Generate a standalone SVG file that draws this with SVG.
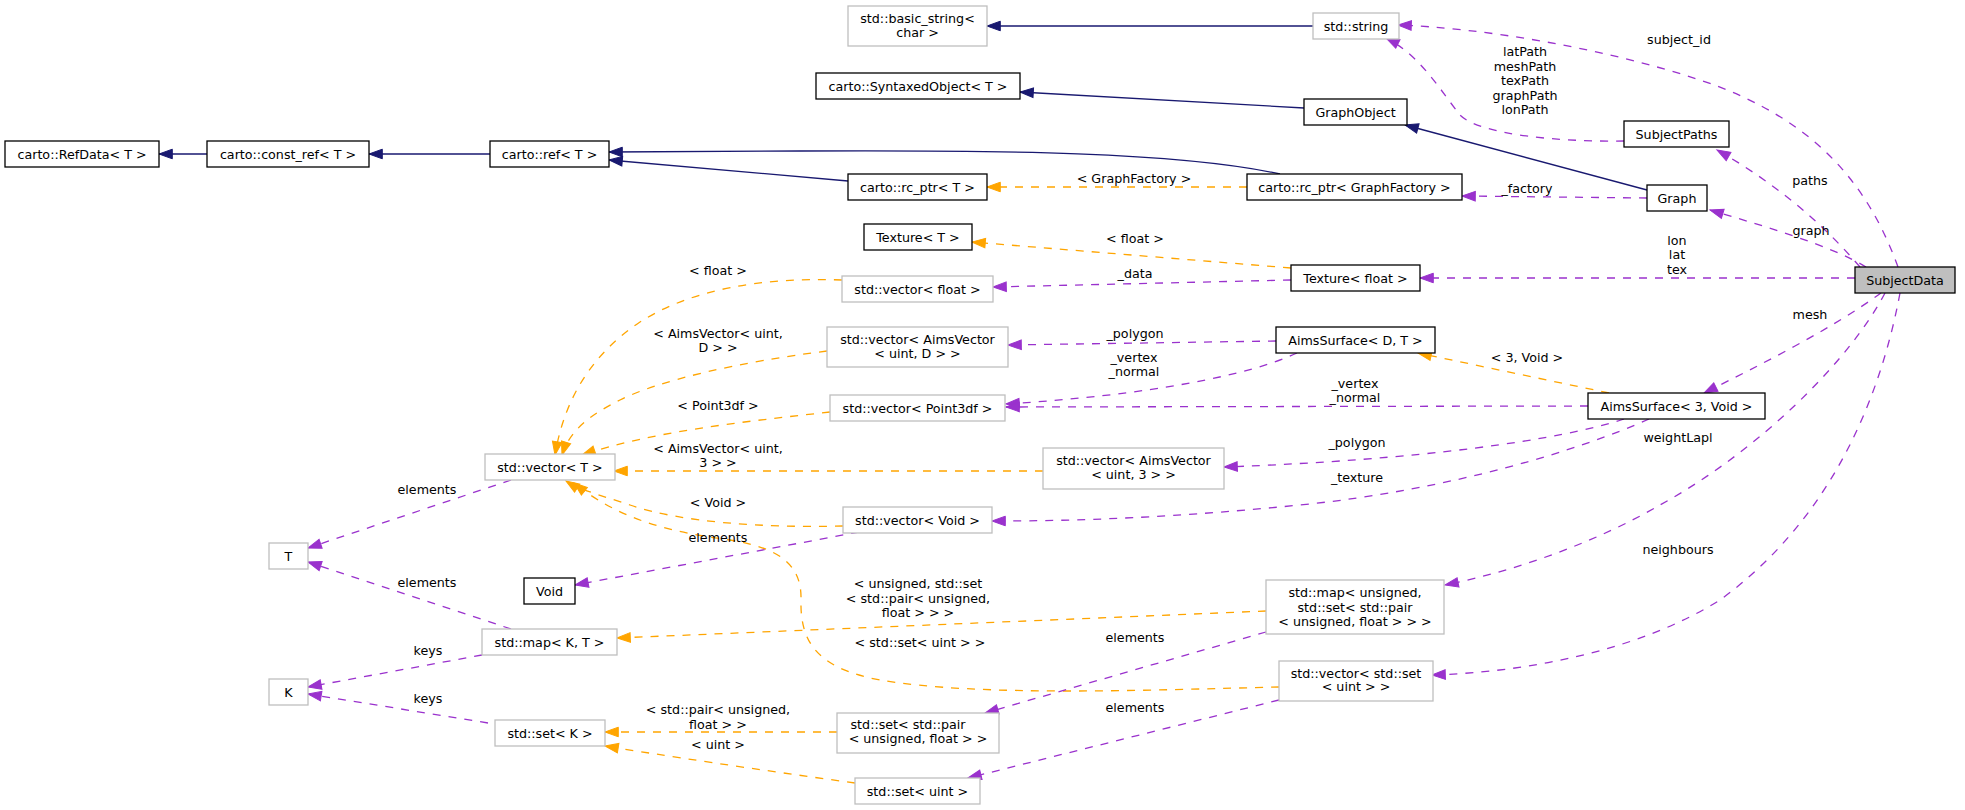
<svg xmlns="http://www.w3.org/2000/svg" width="1965" height="810" viewBox="0 0 1965 810">
<style>
rect{fill:#fff;stroke:#000;stroke-width:1.3}
.g rect{stroke:#bfbfbf}
.f rect{fill:#bfbfbf}
text{font-family:"DejaVu Sans","Liberation Sans",sans-serif;font-size:12.7px;text-anchor:middle;fill:#000}
#edges path{fill:none;stroke-width:1.3}
.i{stroke:#191970}
.o{stroke:#ffa500;stroke-dasharray:8,8}
.p{stroke:#9a32cd;stroke-dasharray:8,8}
</style>
<defs>
<marker id="aN" markerUnits="userSpaceOnUse" markerWidth="16" markerHeight="12" refX="13.3" refY="4.8" orient="auto" overflow="visible"><path d="M0,0L13.3,4.8L0,9.6z" fill="#191970" stroke="#191970" stroke-width="1"/></marker>
<marker id="aO" markerUnits="userSpaceOnUse" markerWidth="16" markerHeight="12" refX="13.3" refY="4.8" orient="auto" overflow="visible"><path d="M0,0L13.3,4.8L0,9.6z" fill="#ffa500" stroke="#ffa500" stroke-width="1"/></marker>
<marker id="aP" markerUnits="userSpaceOnUse" markerWidth="16" markerHeight="12" refX="13.3" refY="4.8" orient="auto" overflow="visible"><path d="M0,0L13.3,4.8L0,9.6z" fill="#9a32cd" stroke="#9a32cd" stroke-width="1"/></marker>
</defs>
<rect x="0" y="0" width="1965" height="810" style="fill:#fff;stroke:none"/>

<g id="edges">
<!-- inheritance -->
<path class="i" marker-end="url(#aN)" d="M207,154L159,154"/>
<path class="i" marker-end="url(#aN)" d="M490,154L369,154"/>
<path class="i" marker-end="url(#aN)" d="M1313,26L987,26"/>
<path class="i" marker-end="url(#aN)" d="M1304,108L1020,92"/>
<path class="i" marker-end="url(#aN)" d="M1280,174C1180,152 1000,150 800,151C700,151 640,152 609,152"/>
<path class="i" marker-end="url(#aN)" d="M848,181L609,160"/>
<path class="i" marker-end="url(#aN)" d="M1647,190L1405,125"/>
<!-- template instances -->
<path class="o" marker-end="url(#aO)" d="M1247,187L987,187"/>
<path class="o" marker-end="url(#aO)" d="M1291,268L972,242"/>
<path class="o" marker-end="url(#aO)" d="M1609,393L1418,353"/>
<path class="o" marker-end="url(#aO)" d="M1266,611L617,638"/>
<path class="o" marker-end="url(#aO)" d="M842,280C760,277 690,290 640,322C595,352 565,395 555,455"/>
<path class="o" marker-end="url(#aO)" d="M827,351C740,362 660,380 620,400C590,415 570,430 562,455"/>
<path class="o" marker-end="url(#aO)" d="M830,412C740,422 650,432 582,455"/>
<path class="o" marker-end="url(#aO)" d="M1043,471L614,471"/>
<path class="o" marker-end="url(#aO)" d="M843,526C760,528 680,522 630,505C600,495 580,490 566,481"/>
<path class="o" marker-end="url(#aO)" d="M1279,687C1150,690 980,697 880,680C815,668 800,640 801,600C802,565 780,548 730,540C670,532 620,520 574,483"/>
<path class="o" marker-end="url(#aO)" d="M837,732L605,732"/>
<path class="o" marker-end="url(#aO)" d="M855,783C760,770 660,755 605,746"/>
<!-- usage -->
<path class="p" marker-end="url(#aP)" d="M1898,267C1870,190 1820,120 1700,80C1600,47 1480,28 1398,25"/>
<path class="p" marker-end="url(#aP)" d="M1624,141C1560,142 1480,135 1460,115C1440,90 1420,55 1386,38"/>
<path class="p" marker-end="url(#aP)" d="M1647,198L1462,196"/>
<path class="p" marker-end="url(#aP)" d="M1860,267C1820,220 1770,180 1717,150"/>
<path class="p" marker-end="url(#aP)" d="M1866,267C1830,245 1760,225 1710,210"/>
<path class="p" marker-end="url(#aP)" d="M1855,278L1420,278"/>
<path class="p" marker-end="url(#aP)" d="M1881,293C1830,330 1760,365 1704,393"/>
<path class="p" marker-end="url(#aP)" d="M1885,293C1850,360 1760,450 1660,505C1600,540 1520,570 1445,585"/>
<path class="p" marker-end="url(#aP)" d="M1900,293C1880,400 1830,520 1720,600C1640,650 1530,672 1432,675"/>
<path class="p" marker-end="url(#aP)" d="M1291,280L993,287"/>
<path class="p" marker-end="url(#aP)" d="M1276,341L1008,345"/>
<path class="p" marker-end="url(#aP)" d="M1297,353C1250,375 1150,395 1006,404"/>
<path class="p" marker-end="url(#aP)" d="M1588,406L1006,407"/>
<path class="p" marker-end="url(#aP)" d="M1624,419C1560,440 1420,460 1224,467"/>
<path class="p" marker-end="url(#aP)" d="M1649,419C1580,450 1450,490 1300,505C1150,520 1050,521 992,521"/>
<path class="p" marker-end="url(#aP)" d="M1266,632L985,713"/>
<path class="p" marker-end="url(#aP)" d="M1279,700L968,778"/>
<path class="p" marker-end="url(#aP)" d="M511,480L308,548"/>
<path class="p" marker-end="url(#aP)" d="M859,532L575,585"/>
<path class="p" marker-end="url(#aP)" d="M511,629L308,562"/>
<path class="p" marker-end="url(#aP)" d="M482,655L308,687"/>
<path class="p" marker-end="url(#aP)" d="M488,723L308,694"/>
</g>

<g id="edge-labels">
<text x="1134" y="182.5">&lt; GraphFactory &gt;</text>
<text x="1135" y="242.5">&lt; float &gt;</text>
<text x="1527" y="361.5">&lt; 3, Void &gt;</text>
<text x="918" y="587.5">&lt; unsigned, std::set</text>
<text x="918" y="602.5">&lt; std::pair&lt; unsigned,</text>
<text x="918" y="616.5">float &gt; &gt; &gt;</text>
<text x="718" y="274.5">&lt; float &gt;</text>
<text x="718" y="337.5">&lt; AimsVector&lt; uint,</text>
<text x="718" y="351.5">D &gt; &gt;</text>
<text x="718" y="409.5">&lt; Point3df &gt;</text>
<text x="718" y="452.5">&lt; AimsVector&lt; uint,</text>
<text x="718" y="466.5">3 &gt; &gt;</text>
<text x="718" y="506.5">&lt; Void &gt;</text>
<text x="920" y="646.5">&lt; std::set&lt; uint &gt; &gt;</text>
<text x="718" y="713.5">&lt; std::pair&lt; unsigned,</text>
<text x="718" y="728.5">float &gt; &gt;</text>
<text x="718" y="748.5">&lt; uint &gt;</text>
<text x="1679" y="43.5">subject_id</text>
<text x="1525" y="55.5">latPath</text>
<text x="1525" y="70.5">meshPath</text>
<text x="1525" y="84.5">texPath</text>
<text x="1525" y="99.5">graphPath</text>
<text x="1525" y="113.5">lonPath</text>
<text x="1527" y="192.5">_factory</text>
<text x="1810" y="184.5">paths</text>
<text x="1811" y="234.5">graph</text>
<text x="1677" y="244.5">lon</text>
<text x="1677" y="258.5">lat</text>
<text x="1677" y="273.5">tex</text>
<text x="1810" y="318.5">mesh</text>
<text x="1678" y="441.5">weightLapl</text>
<text x="1678" y="553.5">neighbours</text>
<text x="1135" y="277.5">_data</text>
<text x="1135" y="337.5">_polygon</text>
<text x="1134" y="361.5">_vertex</text>
<text x="1134" y="375.5">_normal</text>
<text x="1355" y="387.5">_vertex</text>
<text x="1355" y="401.5">_normal</text>
<text x="1357" y="446.5">_polygon</text>
<text x="1357" y="481.5">_texture</text>
<text x="1135" y="641.5">elements</text>
<text x="1135" y="711.5">elements</text>
<text x="427" y="493.5">elements</text>
<text x="718" y="541.5">elements</text>
<text x="427" y="586.5">elements</text>
<text x="428" y="654.5">keys</text>
<text x="428" y="702.5">keys</text>
</g>

<g id="n-refdata"><rect x="5" y="141" width="154" height="26"/><text x="82" y="158.5">carto::RefData&lt; T &gt;</text></g>
<g id="n-constref"><rect x="207" y="141" width="162" height="26"/><text x="288" y="158.5">carto::const_ref&lt; T &gt;</text></g>
<g id="n-ref"><rect x="490" y="141" width="119" height="26"/><text x="549.5" y="158.5">carto::ref&lt; T &gt;</text></g>
<g id="n-basicstring" class="g"><rect x="848" y="6" width="139" height="40"/><text x="917.5" y="22.5">std::basic_string&lt;</text><text x="917.5" y="36.5">char &gt;</text></g>
<g id="n-syntaxed"><rect x="816" y="73" width="204" height="26"/><text x="918" y="90.5">carto::SyntaxedObject&lt; T &gt;</text></g>
<g id="n-rcptr"><rect x="848" y="174" width="139" height="26"/><text x="917.5" y="191.5">carto::rc_ptr&lt; T &gt;</text></g>
<g id="n-textureT"><rect x="864" y="224" width="108" height="26"/><text x="918" y="241.5">Texture&lt; T &gt;</text></g>
<g id="n-string" class="g"><rect x="1313" y="13" width="86" height="26"/><text x="1356" y="30.5">std::string</text></g>
<g id="n-graphobject"><rect x="1304" y="99" width="103" height="26"/><text x="1355.5" y="116.5">GraphObject</text></g>
<g id="n-subjectpaths"><rect x="1624" y="121" width="105" height="26"/><text x="1676.5" y="138.5">SubjectPaths</text></g>
<g id="n-rcptrgf"><rect x="1247" y="174" width="215" height="26"/><text x="1354.5" y="191.5">carto::rc_ptr&lt; GraphFactory &gt;</text></g>
<g id="n-graph"><rect x="1647" y="185" width="60" height="26"/><text x="1677" y="202.5">Graph</text></g>
<g id="n-texturefloat"><rect x="1291" y="265" width="129" height="26"/><text x="1355.5" y="282.5">Texture&lt; float &gt;</text></g>
<g id="n-subjectdata" class="f"><rect x="1855" y="267" width="100" height="26"/><text x="1905" y="284.5">SubjectData</text></g>
<g id="n-vecfloat" class="g"><rect x="842" y="276" width="151" height="26"/><text x="917.5" y="293.5">std::vector&lt; float &gt;</text></g>
<g id="n-vecaimsD" class="g"><rect x="827" y="327" width="181" height="40"/><text x="917.5" y="343.5">std::vector&lt; AimsVector</text><text x="917.5" y="357.5">&lt; uint, D &gt; &gt;</text></g>
<g id="n-aimssurfDT"><rect x="1276" y="327" width="159" height="26"/><text x="1355.5" y="344.5">AimsSurface&lt; D, T &gt;</text></g>
<g id="n-vecpoint3df" class="g"><rect x="830" y="395" width="175" height="26"/><text x="917.5" y="412.5">std::vector&lt; Point3df &gt;</text></g>
<g id="n-aimssurf3void"><rect x="1588" y="393" width="177" height="26"/><text x="1676.5" y="410.5">AimsSurface&lt; 3, Void &gt;</text></g>
<g id="n-vecaims3" class="g"><rect x="1043" y="448" width="181" height="41"/><text x="1133.5" y="464.5">std::vector&lt; AimsVector</text><text x="1133.5" y="478.5">&lt; uint, 3 &gt; &gt;</text></g>
<g id="n-vecT" class="g"><rect x="485" y="454" width="130" height="26"/><text x="550" y="471.5">std::vector&lt; T &gt;</text></g>
<g id="n-vecvoid" class="g"><rect x="843" y="507" width="149" height="26"/><text x="917.5" y="524.5">std::vector&lt; Void &gt;</text></g>
<g id="n-T" class="g"><rect x="269" y="543" width="39" height="26"/><text x="288.5" y="560.5">T</text></g>
<g id="n-void"><rect x="524" y="578" width="51" height="26"/><text x="549.5" y="595.5">Void</text></g>
<g id="n-mapKT" class="g"><rect x="482" y="629" width="135" height="26"/><text x="549.5" y="646.5">std::map&lt; K, T &gt;</text></g>
<g id="n-K" class="g"><rect x="269" y="679" width="39" height="26"/><text x="288.5" y="696.5">K</text></g>
<g id="n-setK" class="g"><rect x="495" y="720" width="110" height="26"/><text x="550" y="737.5">std::set&lt; K &gt;</text></g>
<g id="n-mapunsigned" class="g"><rect x="1266" y="580" width="178" height="54"/><text x="1355" y="596.5">std::map&lt; unsigned,</text><text x="1355" y="611.5">std::set&lt; std::pair</text><text x="1355" y="625.5">&lt; unsigned, float &gt; &gt; &gt;</text></g>
<g id="n-vecsetuint" class="g"><rect x="1279" y="661" width="154" height="40"/><text x="1356" y="677.5">std::vector&lt; std::set</text><text x="1356" y="690.5">&lt; uint &gt; &gt;</text></g>
<g id="n-setpair" class="g"><rect x="837" y="713" width="162" height="40"/><text x="908" y="728.5">std::set&lt; std::pair</text><text x="918" y="742.5">&lt; unsigned, float &gt; &gt;</text></g>
<g id="n-setuint" class="g"><rect x="855" y="778" width="125" height="26"/><text x="917.5" y="795.5">std::set&lt; uint &gt;</text></g>
</svg>
